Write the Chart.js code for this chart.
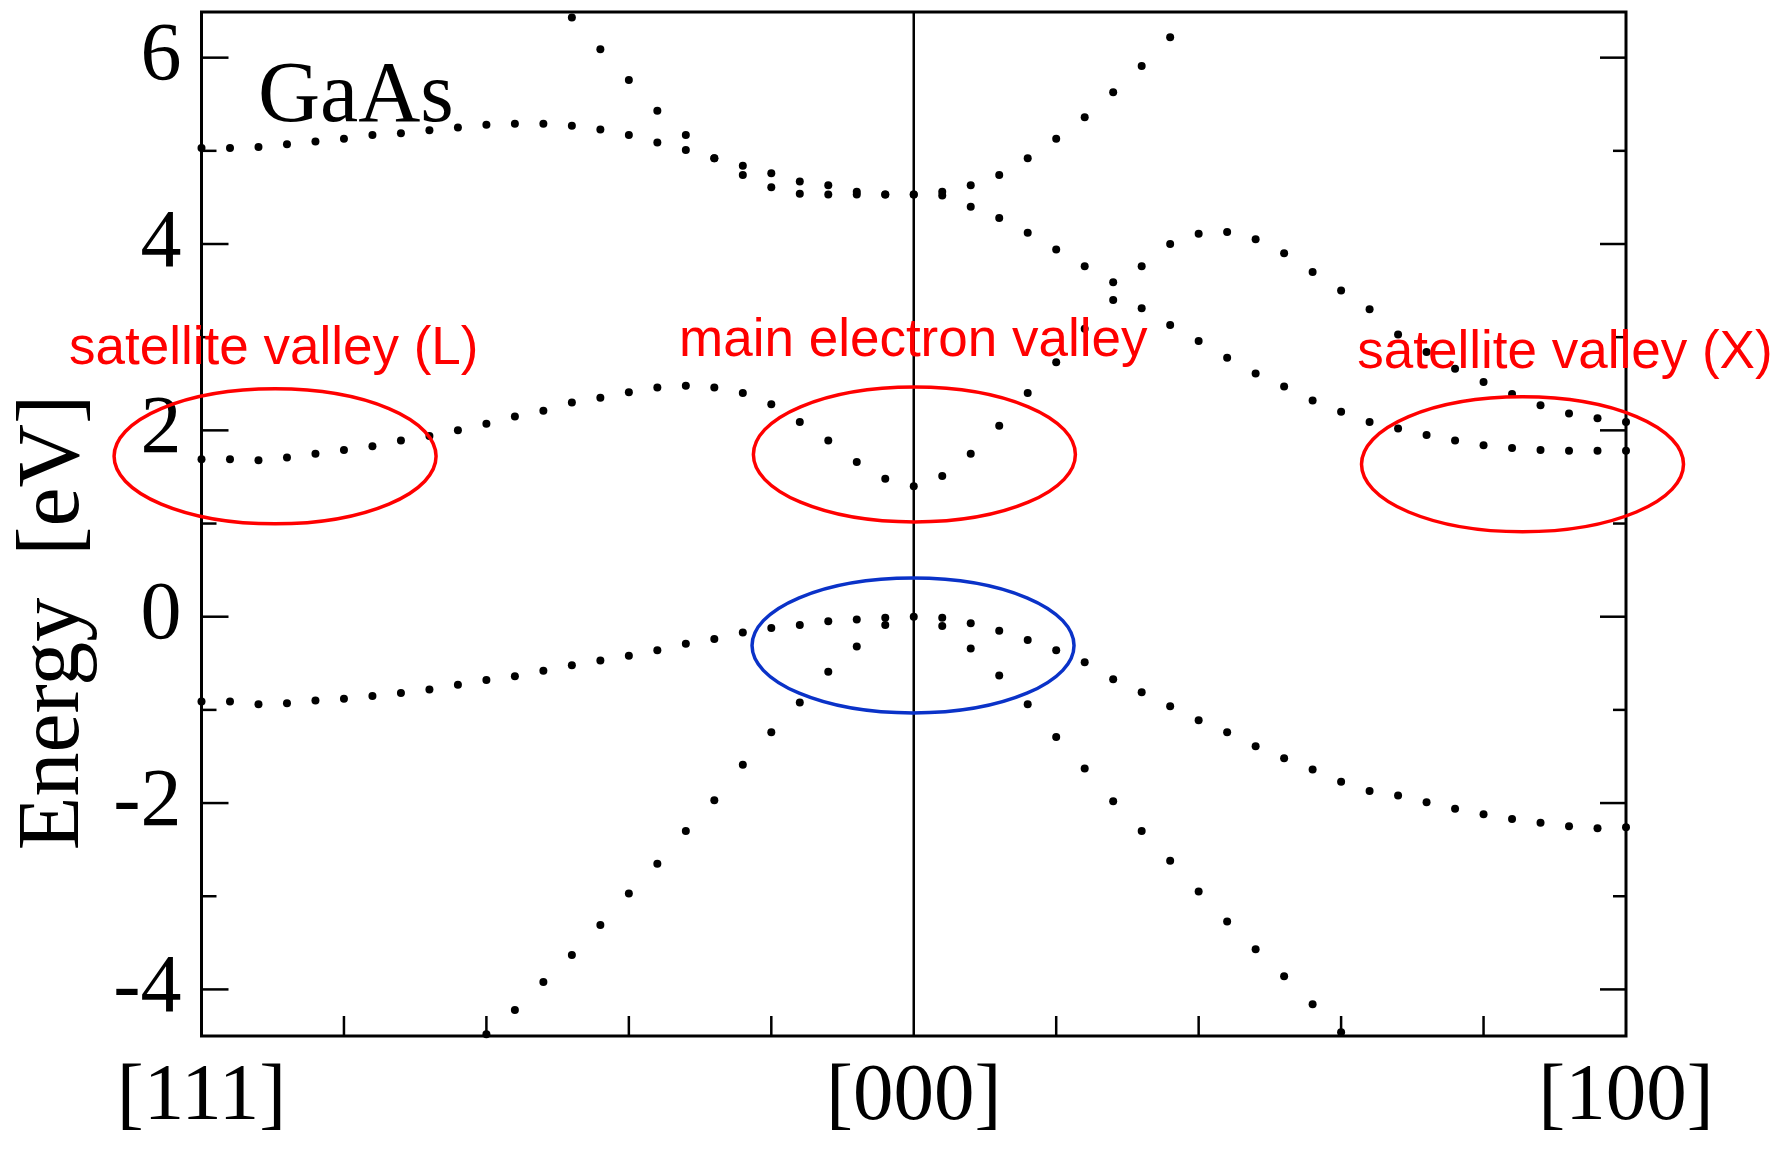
<!DOCTYPE html>
<html>
<head>
<meta charset="utf-8">
<script src="https://cdn.jsdelivr.net/npm/chart.js@4.4.1/dist/chart.umd.min.js"></script>
<style>
  html, body { margin: 0; padding: 0; background: #ffffff; }
  canvas { display: block; }
</style>
</head>
<body>
<canvas id="chart" width="1783" height="1151"></canvas>
<script>
// ---- wave-vector grid ([111] = -1, [000] = 0, [100] = +1) ----
const kPoints = [-1.00,-0.96,-0.92,-0.88,-0.84,-0.80,-0.76,-0.72,-0.68,-0.64,
                 -0.60,-0.56,-0.52,-0.48,-0.44,-0.40,-0.36,-0.32,-0.28,-0.24,
                 -0.20,-0.16,-0.12,-0.08,-0.04, 0.00, 0.04, 0.08, 0.12, 0.16,
                  0.20, 0.24, 0.28, 0.32, 0.36, 0.40, 0.44, 0.48, 0.52, 0.56,
                  0.60, 0.64, 0.68, 0.72, 0.76, 0.80, 0.84, 0.88, 0.92, 0.96, 1.00];

// ---- band energies (eV), one value per k point, null = no dot ----
const valenceTop = [-0.91,-0.91,-0.94,-0.93,-0.90,-0.88,-0.85,-0.82,-0.78,-0.73,
                    -0.68,-0.64,-0.58,-0.52,-0.47,-0.42,-0.36,-0.29,-0.24,-0.17,
                    -0.12,-0.09,-0.05,-0.03,-0.01, 0.00,-0.01,-0.07,-0.15,-0.25,
                    -0.36,-0.49,-0.67,-0.81,-0.96,-1.11,-1.24,-1.39,-1.52,-1.64,
                    -1.77,-1.87,-1.92,-1.99,-2.06,-2.12,-2.17,-2.21,-2.25,-2.27,-2.26];

const valenceSteep = [null,null,null,null,null,null,null,null,null,null,
                      -4.48,-4.22,-3.92,-3.63,-3.31,-2.97,-2.65,-2.30,-1.97,-1.59,
                      -1.24,-0.92,-0.59,-0.32,-0.09,null,-0.10,-0.34,-0.63,-0.94,
                      -1.29,-1.63,-1.98,-2.30,-2.62,-2.95,-3.27,-3.57,-3.86,-4.16,
                      -4.46,null,null,null,null,null,null,null,null,null,null];

const conductionLowest = [1.69,1.69,1.68,1.71,1.75,1.79,1.83,1.89,1.94,2.00,
                          2.07,2.15,2.21,2.30,2.35,2.41,2.46,2.48,2.46,2.40,
                          2.28,2.09,1.89,1.66,1.48,1.40,1.51,1.75,2.05,2.40,
                          2.73,3.09,3.40,3.76,4.00,4.11,4.13,4.05,3.90,3.70,
                          3.50,3.30,3.03,2.84,2.66,2.52,2.39,2.27,2.18,2.13,2.09];

const conductionSecond = [5.03,5.03,5.04,5.07,5.10,5.13,5.17,5.19,5.22,5.25,
                          5.28,5.29,5.29,5.27,5.23,5.17,5.09,5.01,4.92,4.74,
                          4.61,4.54,4.53,4.53,4.53,4.53,4.52,4.40,4.28,4.12,
                          3.94,3.76,3.59,3.31,3.13,2.96,2.78,2.61,2.47,2.32,
                          2.20,2.09,2.02,1.95,1.89,1.84,1.81,1.79,1.78,1.78,1.78];

const conductionThird = [null,null,null,null,null,null,null,null,null,null,
                         null,null,null,6.43,6.09,5.76,5.43,5.17,4.92,4.84,
                         4.76,4.67,4.63,4.56,4.53,4.53,4.56,4.63,4.74,4.92,
                         5.13,5.36,5.63,5.91,6.22,null,null,null,null,null,
                         null,null,null,null,null,null,null,null,null,null,null];

// ---- axis ticks / labels ----
const yTickValues = [-4, -2, 0, 2, 4, 6];
const yMinorTickValues = [-3, -1, 1, 3, 5];
const xTickValues = [-1, 0, 1];
const xTickLabels = ['[111]', '[000]', '[100]'];
const xInnerTickValues = [-0.8, -0.6, -0.4, -0.2, 0.2, 0.4, 0.6, 0.8];
const yAxisTitle = 'Energy [eV]';
const materialLabel = 'GaAs';

// ---- annotations (anchored in axis units) ----
const valleyLabels = ['satellite valley (L)', 'main electron valley', 'satellite valley (X)'];
const valleyLabelAnchors = [[-1.186, 2.716], [-0.3295, 2.799], [0.6227, 2.666]];
const ellipseCenters = [[-0.8967, 1.721], [0.0009, 1.741], [0.8547, 1.636], [-0.001, -0.309]];
const ellipseKinds = ['red', 'red', 'red', 'blue'];
const materialAnchor = [-0.9207, 5.315];
const titleAnchor = [-1.1733, -0.062];

const bands = [valenceTop, valenceSteep, conductionLowest, conductionSecond, conductionThird];
const bandNames = ['valence 1', 'valence 2', 'conduction 1', 'conduction 2', 'conduction 3'];

function toPoints(band) {
  const pts = [];
  band.forEach((e, i) => { if (e !== null) pts.push({ x: kPoints[i], y: e }); });
  return pts;
}

const style = {
  serif: '"Liberation Serif", "Times New Roman", serif',
  sans: '"Liberation Sans", Arial, sans-serif',
  red: '#ff0000',
  blue: '#0a32c8',
  ellipseRx: 161,
  ellipseRy: 67.5
};

const backgroundPlugin = {
  id: 'bg',
  beforeDraw(chart) {
    const c = chart.ctx;
    c.save();
    c.fillStyle = '#ffffff';
    c.fillRect(0, 0, chart.width, chart.height);
    c.restore();
  }
};

const framePlugin = {
  id: 'frame',
  beforeDatasetsDraw(chart) {
    const c = chart.ctx;
    const { left, right, top, bottom } = chart.chartArea;
    const xs = chart.scales.x, ys = chart.scales.y;
    c.save();
    c.strokeStyle = '#000';
    c.lineCap = 'butt';
    c.lineWidth = 2.5;
    const x0 = xs.getPixelForValue(0);
    c.beginPath(); c.moveTo(x0, top); c.lineTo(x0, bottom); c.stroke();
    yTickValues.forEach(v => {
      const y = ys.getPixelForValue(v);
      c.beginPath(); c.moveTo(left, y); c.lineTo(left + 27, y); c.stroke();
      c.beginPath(); c.moveTo(right, y); c.lineTo(right - 26, y); c.stroke();
    });
    yMinorTickValues.forEach(v => {
      const y = ys.getPixelForValue(v);
      c.beginPath(); c.moveTo(left, y); c.lineTo(left + 15, y); c.stroke();
      c.beginPath(); c.moveTo(right, y); c.lineTo(right - 13, y); c.stroke();
    });
    xInnerTickValues.forEach(v => {
      const x = xs.getPixelForValue(v);
      c.beginPath(); c.moveTo(x, bottom); c.lineTo(x, bottom - 20); c.stroke();
    });
    c.lineWidth = 3;
    c.strokeRect(left, top, right - left, bottom - top);
    c.restore();
  }
};

const annotationPlugin = {
  id: 'annot',
  afterDatasetsDraw(chart) {
    const c = chart.ctx;
    const xs = chart.scales.x, ys = chart.scales.y;
    c.save();
    c.fillStyle = '#000';
    c.font = '86px ' + style.serif;
    c.textAlign = 'left';
    c.textBaseline = 'alphabetic';
    c.fillText(materialLabel, xs.getPixelForValue(materialAnchor[0]), ys.getPixelForValue(materialAnchor[1]));
    c.save();
    c.translate(xs.getPixelForValue(titleAnchor[0]), ys.getPixelForValue(titleAnchor[1]));
    c.rotate(-Math.PI / 2);
    c.font = '88px ' + style.serif;
    c.textAlign = 'center';
    c.textBaseline = 'alphabetic';
    try { c.wordSpacing = '20px'; } catch (e) {}
    c.fillText(yAxisTitle, 0, 0);
    c.restore();
    ellipseCenters.forEach((p, i) => {
      c.beginPath();
      c.ellipse(xs.getPixelForValue(p[0]), ys.getPixelForValue(p[1]), style.ellipseRx, style.ellipseRy, 0, 0, Math.PI * 2);
      c.lineWidth = 3.5;
      c.strokeStyle = ellipseKinds[i] === 'red' ? style.red : style.blue;
      c.stroke();
    });
    c.fillStyle = style.red;
    c.font = '53px ' + style.sans;
    c.textAlign = 'left';
    c.textBaseline = 'alphabetic';
    valleyLabels.forEach((t, i) => {
      c.fillText(t, xs.getPixelForValue(valleyLabelAnchors[i][0]), ys.getPixelForValue(valleyLabelAnchors[i][1]));
    });
    c.restore();
  }
};

const ctx = document.getElementById('chart').getContext('2d');
new Chart(ctx, {
  type: 'scatter',
  data: {
    datasets: bands.map((b, i) => ({
      label: bandNames[i],
      data: toPoints(b),
      showLine: false,
      pointRadius: 4,
      pointHoverRadius: 4,
      pointStyle: 'circle',
      pointBackgroundColor: '#000000',
      pointBorderColor: '#000000',
      pointBorderWidth: 0,
      clip: false
    }))
  },
  options: {
    responsive: false,
    animation: false,
    devicePixelRatio: 1,
    events: [],
    layout: { padding: { left: 0, right: 157, top: 12, bottom: 0 } },
    plugins: { legend: { display: false }, tooltip: { enabled: false } },
    scales: {
      x: {
        type: 'linear', min: -1, max: 1,
        grid: { display: false, drawTicks: false },
        border: { display: false },
        afterBuildTicks: s => { s.ticks = xTickValues.map(v => ({ value: v })); },
        afterFit: s => { s.height = 115; s.paddingLeft = 0; s.paddingRight = 0; },
        ticks: {
          autoSkip: false, maxRotation: 0, minRotation: 0, padding: 21, color: '#000',
          font: { family: style.serif, size: 81, lineHeight: 1 },
          callback: v => { const i = xTickValues.indexOf(v); return i >= 0 ? xTickLabels[i] : ''; }
        }
      },
      y: {
        type: 'linear', min: -4.5, max: 6.49,
        grid: { display: false, drawTicks: false },
        border: { display: false },
        afterBuildTicks: s => { s.ticks = yTickValues.map(v => ({ value: v })); },
        afterFit: s => { s.width = 201.5; s.paddingTop = 0; s.paddingBottom = 0; },
        ticks: {
          padding: 20, color: '#000',
          font: { family: style.serif, size: 82, lineHeight: 1 },
          callback: v => String(v)
        }
      }
    }
  },
  plugins: [backgroundPlugin, framePlugin, annotationPlugin]
});
</script>
</body>
</html>
